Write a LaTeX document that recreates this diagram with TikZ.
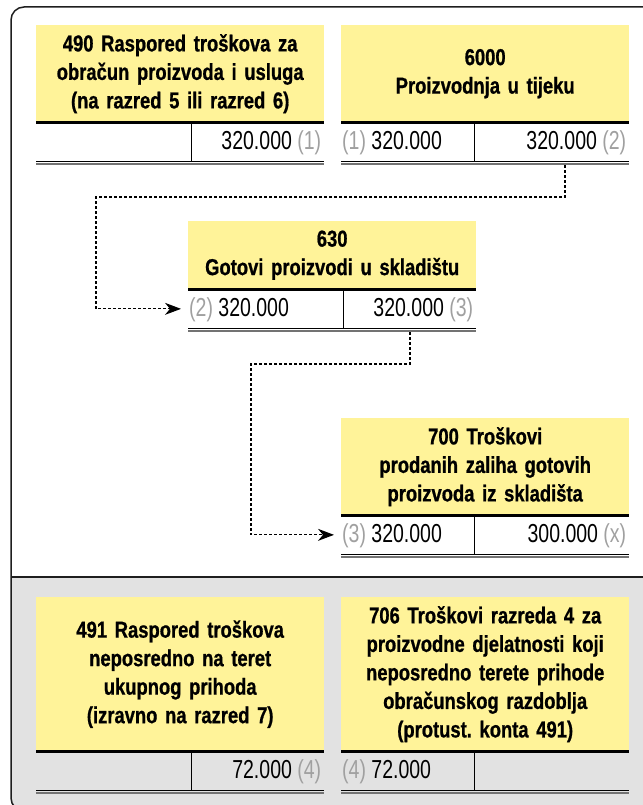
\documentclass[tikz,border=0pt]{standalone}
\usepackage{fontspec}
\setmainfont{Liberation Sans}
\newfontfamily\headfont{Liberation Sans}[FakeStretch=0.8,FakeBold=0.8]
\newfontfamily\rowfont{Liberation Sans}[FakeStretch=0.75]
\usetikzlibrary{arrows.meta}
\definecolor{yel}{RGB}{255,243,153}
\definecolor{bggray}{RGB}{226,226,226}
\definecolor{numgray}{RGB}{160,160,160}
\definecolor{framec}{RGB}{30,30,30}
\newcommand\grn[1]{\textcolor{numgray}{#1}}
\newcommand\taccount[6]{%
  \node[head, minimum height=#4] (#1) at (#2,#3) {#6};
  \node[cell, minimum width=#5] (#1L) at (#1.south west) {};
  \node[cell, anchor=north east, minimum width={288bp-#5}] (#1R) at (#1.south east) {};
  \draw[thickrule] (#1.south west) -- (#1.south east);
  \draw[divider] (#1L.north east) -- (#1L.south east);
  \draw[botrule] (#1L.south west) -- (#1R.south east);
  \draw[botrulegray] ([yshift=-2.8bp]#1L.south west) -- ([yshift=-2.8bp]#1R.south east);
}
\frenchspacing
\begin{document}
\begin{tikzpicture}[x=1bp,y=-1bp,
  head/.style={fill=yel, anchor=north west, minimum width=288bp, inner sep=0pt,
    text width=286bp, align=center,
    font={\headfont\bfseries\fontsize{23bp}{28.5bp}\selectfont}},
  cell/.style={anchor=north west, minimum height=38.5bp, inner sep=0pt},
  thickrule/.style={line width=2.4bp, black},
  divider/.style={line width=0.9bp, black},
  botrule/.style={line width=0.9bp, black},
  botrulegray/.style={line width=1.3bp, black!55},
  entryL/.style={anchor=west, inner sep=0pt, font={\rowfont\fontsize{26bp}{28bp}\selectfont}},
  entryR/.style={anchor=east, inner sep=0pt, font={\rowfont\fontsize{26bp}{28bp}\selectfont}},
  frame/.style={line width=1.5bp, framec},
  flow/.style={line width=1.1bp, dash pattern=on 3bp off 2bp,
    -{Stealth[length=16bp,width=12bp,inset=5bp]}, shorten >=7bp},
]
\useasboundingbox (0,0) rectangle (643,805);
\clip (0,0) rectangle (643,805);

% background and frame
\fill[bggray] (11,700) [rounded corners=13bp] -- (11,811) -- (660,811) [sharp corners] -- (660,577) -- (11,577) -- cycle;
\draw[frame] (660,7) [rounded corners=13bp] -- (11,7) -- (11,811) -- (660,811);
\draw[frame] (11,577) -- (660,577);

% accounts
\taccount{a490}{36}{25}{97bp}{155bp}{490 Raspored troškova za\\ obračun proizvoda i usluga\\ (na razred 5 ili razred 6)}
\taccount{a6000}{341}{25}{97bp}{133bp}{6000\\ Proizvodnja u tijeku}
\taccount{a630}{188}{221}{68bp}{155bp}{630\\ Gotovi proizvodi u skladištu}
\taccount{a700}{341}{418}{97bp}{133bp}{700 Troškovi\\ prodanih zaliha gotovih\\ proizvoda iz skladišta}
\taccount{a491}{36}{597}{154bp}{155bp}{491 Raspored troškova\\ neposredno na teret\\ ukupnog prihoda\\ (izravno na razred 7)}
\taccount{a706}{341}{597}{154bp}{133bp}{706 Troškovi razreda 4 za\\ proizvodne djelatnosti koji\\ neposredno terete prihode\\ obračunskog razdoblja\\ (protust. konta 491)}

% entries
\node[entryR] (e490r) at ([xshift=-3bp,yshift=-1bp]a490R.east) {320.000 \grn{(1)}};
\node[entryL] (e6000l) at ([xshift=1bp,yshift=-1bp]a6000L.west) {\grn{(1)} 320.000};
\node[entryR] (e6000r) at ([xshift=-3bp,yshift=-1bp]a6000R.east) {320.000 \grn{(2)}};
\node[entryL] (e630l) at ([xshift=1bp,yshift=-1bp]a630L.west) {\grn{(2)} 320.000};
\node[entryR] (e630r) at ([xshift=-3bp,yshift=-1bp]a630R.east) {320.000 \grn{(3)}};
\node[entryL] (e700l) at ([xshift=1bp,yshift=-1bp]a700L.west) {\grn{(3)} 320.000};
\node[entryR] (e700r) at ([xshift=-3bp,yshift=-1bp]a700R.east) {300.000 \grn{(x)}};
\node[entryR] (e491r) at ([xshift=-3bp,yshift=-1bp]a491R.east) {72.000 \grn{(4)}};
\node[entryL] (e706l) at ([xshift=1bp,yshift=-1bp]a706L.west) {\grn{(4)} 72.000};

% connectors
\coordinate (s1) at (565,165);
\coordinate (k1) at (96,197);
\draw[flow] (s1) |- (k1) |- (a630L.west);
\coordinate (s2) at (410,332);
\coordinate (k2) at (251,364);
\draw[flow] (s2) |- (k2) |- (a700L.west);
\end{tikzpicture}
\end{document}
